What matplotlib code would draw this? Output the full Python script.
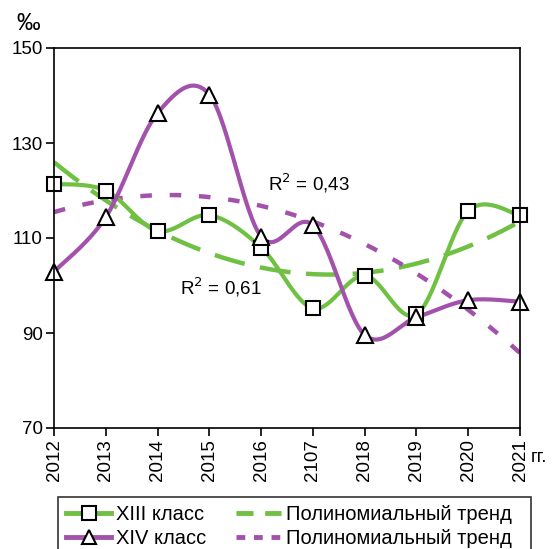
import numpy as np
import matplotlib
matplotlib.use('Agg')
import matplotlib.pyplot as plt
from matplotlib.lines import Line2D

plt.rcParams['font.family'] = ['Liberation Sans', 'DejaVu Sans']

years = [2012, 2013, 2014, 2015, 2016, 2017, 2018, 2019, 2020, 2021]
year_labels = ['2012', '2013', '2014', '2015', '2016', '2107', '2018', '2019', '2020', '2021']
xiii = [121.4, 120.0, 111.5, 114.8, 108.0, 95.2, 102.1, 93.9, 115.7, 114.8]
xiv = [102.9, 114.4, 136.3, 140.2, 110.3, 112.7, 89.6, 93.3, 96.9, 96.6]

green = '#6fc043'
purple = '#a352ac'


def smooth(x, y, n=30):
    # excel-like smoothed line (catmull-rom bezier)
    x = np.asarray(x, float)
    y = np.asarray(y, float)
    P = np.column_stack([x, y])
    out = []
    for i in range(len(P) - 1):
        p0 = P[i - 1] if i > 0 else P[i]
        p3 = P[i + 2] if i + 2 < len(P) else P[i + 1]
        b0 = P[i]
        b3 = P[i + 1]
        b1 = b0 + (b3 - p0) / 6
        b2 = b3 - (p3 - b0) / 6
        t = np.linspace(0, 1, n)[:, None]
        seg = (1 - t) ** 3 * b0 + 3 * (1 - t) ** 2 * t * b1 + 3 * (1 - t) * t ** 2 * b2 + t ** 3 * b3
        out.append(seg if i == 0 else seg[1:])
    out = np.vstack(out)
    return out[:, 0], out[:, 1]


def trend(x, y, deg):
    # polynomial trend line, as excel does it
    xi = np.arange(1, len(x) + 1)
    c = np.polyfit(xi, y, deg)
    xs = np.linspace(1, len(x), 200)
    return xs + x[0] - 1, np.polyval(c, xs)


fig = plt.figure(figsize=(5.53, 5.49), dpi=100)
ax = fig.add_axes([54 / 553, 1 - 428 / 549, 466 / 553, 380 / 549])

green_dash = (7, 3.5)
purple_dash = (2.6, 4)

tx, ty = trend(years, xiii, 2)
ax.plot(tx, ty, color=green, lw=3.2, dashes=green_dash)
tx, ty = trend(years, xiv, 2)
ax.plot(tx, ty, color=purple, lw=3.2, dashes=purple_dash)

sx, sy = smooth(years, xiii)
ax.plot(sx, sy, color=green, lw=3)
sx, sy = smooth(years, xiv)
ax.plot(sx, sy, color=purple, lw=3)

ax.plot(years, xiii, ls='none', marker='s', ms=10.5, mfc='white', mec='black', mew=1.5, clip_on=False)
ax.plot(years, xiv, ls='none', marker='^', ms=11, mfc='white', mec='black', mew=1.5, clip_on=False)

ax.set_xlim(2012, 2021)
ax.set_ylim(70, 150)
ax.set_yticks([70, 90, 110, 130, 150])
ax.set_xticks(years)
ax.set_xticklabels(year_labels, rotation=90)
ax.tick_params(axis='both', direction='out', length=6, width=1.2, labelsize=13.5, colors='black')
ax.tick_params(axis='x', pad=2)
ax.tick_params(axis='y', pad=2)
for s in ax.spines.values():
    s.set_linewidth(1.2)

fig.text(16 / 553, 1 - 30 / 549, '‰', fontsize=17, va='baseline', ha='left')
fig.text(531 / 553, 1 - 458 / 549, 'гг.', fontsize=13.5, va='center', ha='left')
fig.text(268 / 553, 1 - 183 / 549, 'R$^2$ = 0,43', fontsize=13.5, va='center', ha='left')
fig.text(180 / 553, 1 - 287 / 549, 'R$^2$ = 0,61', fontsize=13.5, va='center', ha='left')

handles = [
    Line2D([], [], color=green, lw=3.5, marker='s', ms=10, mfc='white', mec='black', mew=1.5),
    Line2D([], [], color=purple, lw=3.5, marker='^', ms=10.5, mfc='white', mec='black', mew=1.5),
    Line2D([], [], color=green, lw=3.5, dashes=(3.5, 2.4)),
    Line2D([], [], color=purple, lw=3.5, dashes=(1.8, 1.8)),
]
labels = ['XIII класс', 'XIV класс', 'Полиномиальный тренд  ', 'Полиномиальный тренд  ']
leg = fig.legend(handles, labels, ncol=2, loc='upper left', bbox_to_anchor=(58 / 553, 1 - 497 / 549),
                 borderaxespad=0, fontsize=14.5, frameon=True, fancybox=False, edgecolor='black',
                 handlelength=2.25, handletextpad=0.25, columnspacing=1.45, labelspacing=0.25,
                 borderpad=0.4)
leg.get_frame().set_linewidth(1.2)

fig.savefig('out.png', dpi=100)
